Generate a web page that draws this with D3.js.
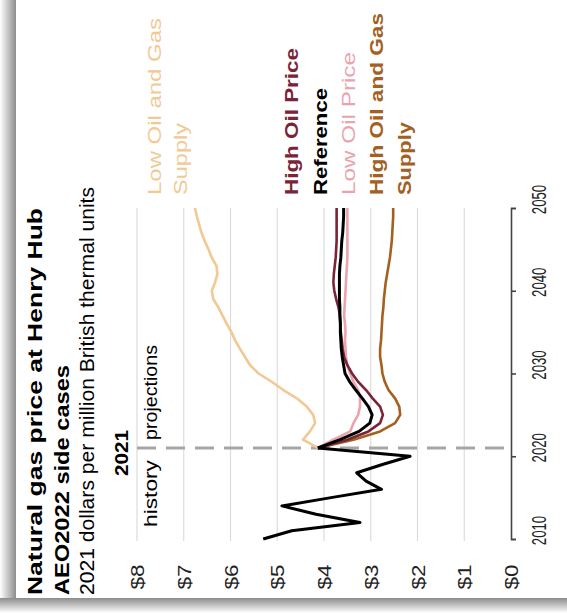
<!DOCTYPE html>
<html><head><meta charset="utf-8">
<script src="https://cdn.jsdelivr.net/npm/d3@7"></script>
<style>html,body{margin:0;padding:0;background:#fff;}svg{display:block;font-family:"Liberation Sans",Arial,sans-serif;}</style>
</head><body>
<svg id="c" width="567" height="613"></svg>
<script>
// ---- data ----
const historyYears = [2010,2011,2012,2013,2014,2015,2016,2017,2018,2019,2020,2021];
const historyValues = [5.30,4.69,3.23,4.17,4.90,3.85,2.77,3.10,3.30,2.75,2.16,4.13];
const projYears = d3.range(2021, 2051);
const lowOilGasSupply = [4.13,4.45,4.30,4.19,4.23,4.37,4.58,4.87,5.12,5.40,5.58,5.69,5.80,5.90,5.98,6.08,6.17,6.26,6.37,6.40,6.33,6.28,6.30,6.40,6.47,6.55,6.62,6.67,6.72,6.76];
const highOilGasSupply = [4.13,3.37,2.80,2.48,2.37,2.39,2.48,2.62,2.70,2.75,2.77,2.80,2.80,2.78,2.77,2.76,2.75,2.73,2.72,2.70,2.68,2.65,2.62,2.59,2.57,2.55,2.54,2.53,2.52,2.52];
const referenceCase = [4.13,3.66,3.25,3.02,2.97,3.05,3.18,3.32,3.45,3.55,3.58,3.61,3.63,3.64,3.65,3.65,3.66,3.66,3.67,3.67,3.67,3.67,3.66,3.64,3.63,3.62,3.60,3.59,3.58,3.58];
const highOilPrice = [4.13,3.50,3.05,2.80,2.74,2.80,2.96,3.10,3.27,3.40,3.50,3.57,3.60,3.62,3.64,3.65,3.66,3.69,3.74,3.78,3.80,3.79,3.77,3.75,3.74,3.73,3.73,3.73,3.73,3.73];
const lowOilPrice = [4.13,3.80,3.44,3.37,3.27,3.23,3.23,3.27,3.37,3.44,3.50,3.53,3.54,3.55,3.54,3.55,3.57,3.56,3.55,3.54,3.53,3.52,3.51,3.50,3.50,3.50,3.50,3.50,3.50,3.50];
const priceTicks = [0,1,2,3,4,5,6,7,8];
const yearTicks = [2010,2020,2030,2040,2050];
const seriesNames = ["Low Oil and Gas Supply","High Oil and Gas Supply","Low Oil Price","High Oil Price","Reference"];
const seriesColors = ["#f2c894","#a3601f","#e9a4ae","#7a2437","#000000"];
const titleLines = ["Natural gas price at Henry Hub","AEO2022 side cases","2021 dollars per million British thermal units"];

const svg = d3.select("#c");
// card shadow
const defs = svg.append("defs");
const gl = defs.append("linearGradient").attr("id","gl").attr("x1","0").attr("x2","1").attr("y1","0").attr("y2","0");
gl.append("stop").attr("offset","0").attr("stop-color","#ffffff");
gl.append("stop").attr("offset","1").attr("stop-color","#8c8c8c");
const gb = defs.append("linearGradient").attr("id","gb").attr("x1","0").attr("x2","0").attr("y1","0").attr("y2","1");
gb.append("stop").attr("offset","0").attr("stop-color","#8c8c8c");
gb.append("stop").attr("offset","1").attr("stop-color","#ffffff");
svg.append("rect").attr("x",0).attr("y",0).attr("width",16).attr("height",613).attr("fill","url(#gl)");
svg.append("rect").attr("x",0).attr("y",598).attr("width",567).attr("height",15).attr("fill","url(#gb)");
svg.append("rect").attr("x",16).attr("y",0).attr("width",551).attr("height",598).attr("fill","#fff");

// scales (chart drawn rotated: years run bottom->top, price runs right->left)
const yScale = d3.scaleLinear().domain([2010,2050]).range([539,208]);
const pScale = d3.scaleLinear().domain([0,8]).range([511,137]);

function rtext(x,y,str,opts){
  const t = svg.append("text").attr("transform",`translate(${x},${y}) rotate(-90)` + (opts.sx?` scale(${opts.sx},1)`:"")).text(str)
    .attr("font-size",opts.size||18).attr("fill",opts.fill||"#000")
    .attr("font-weight",opts.weight||"normal").attr("text-anchor",opts.anchor||"start");
  if(opts.len){t.attr("textLength",opts.len).attr("lengthAdjust","spacingAndGlyphs");}
  return t;
}

// gridlines
svg.append("g").selectAll("line").data(priceTicks.filter(d=>d>0)).join("line")
  .attr("x1",d=>pScale(d)).attr("x2",d=>pScale(d)).attr("y1",541).attr("y2",208)
  .attr("stroke","#dcdcdc").attr("stroke-width",1.2);

// price labels
priceTicks.forEach(v=>{
  rtext(pScale(v)+7,577,"$"+v,{size:18,anchor:"middle",fill:"#222",len:25});
});

// dashed 2021 line
svg.append("line").attr("x1",pScale(8)).attr("x2",pScale(0)).attr("y1",yScale(2021)).attr("y2",yScale(2021))
  .attr("stroke","#a6a6a6").attr("stroke-width",3).attr("stroke-dasharray","19,10");

// year axis
const ax = svg.append("g").attr("transform",`translate(${pScale(0)},0)`)
  .call(d3.axisRight(yScale).tickValues(yearTicks).tickSize(5).tickFormat(""));
ax.select(".domain").attr("stroke","#444").attr("stroke-width",1.6);
ax.selectAll(".tick line").attr("stroke","#444").attr("stroke-width",1.6);
ax.selectAll(".tick text").remove();
yearTicks.forEach(y=>{
  rtext(pScale(0)+35,yScale(y)-8.5,String(y),{size:20,anchor:"middle",fill:"#222",sx:0.66});
});

// lines
const line = d3.line().x(d=>pScale(d[1])).y(d=>yScale(d[0]));
const projSeries = [lowOilGasSupply, highOilGasSupply, lowOilPrice, highOilPrice, referenceCase];
projSeries.forEach((vals,i)=>{
  svg.append("path").datum(projYears.map((y,j)=>[y,vals[j]])).attr("d",line)
    .attr("fill","none").attr("stroke",seriesColors[i]).attr("stroke-width",i===4?3:2.6)
    .attr("stroke-linejoin","round");
});
svg.append("path").datum(historyYears.map((y,j)=>[y,historyValues[j]])).attr("d",line)
  .attr("fill","none").attr("stroke","#000").attr("stroke-width",3).attr("stroke-linejoin","round");

// titles
rtext(42,595,titleLines[0],{size:20,weight:"bold",len:387});
rtext(68.5,595,titleLines[1],{size:20,weight:"bold",len:230});
rtext(94,595,titleLines[2],{size:20,len:408});

// annotations
rtext(128,453,"2021",{size:19,weight:"bold",anchor:"middle",len:46});
rtext(157,527,"history",{size:19,len:67});
rtext(157,440,"projections",{size:19,len:95});

// legend labels
rtext(161,195,"Low Oil and Gas",{size:19,fill:seriesColors[0],len:177});
rtext(187,195,"Supply",{size:19,fill:seriesColors[0],len:72});
rtext(298,195,"High Oil Price",{size:19,weight:"bold",fill:seriesColors[3],len:147});
rtext(327,195,"Reference",{size:19,weight:"bold",fill:seriesColors[4],len:107});
rtext(355,195,"Low Oil Price",{size:19,fill:seriesColors[2],len:143});
rtext(383,195,"High Oil and Gas",{size:19,weight:"bold",fill:seriesColors[1],len:182});
rtext(411,195,"Supply",{size:19,weight:"bold",fill:seriesColors[1],len:73});
</script>
</body></html>
